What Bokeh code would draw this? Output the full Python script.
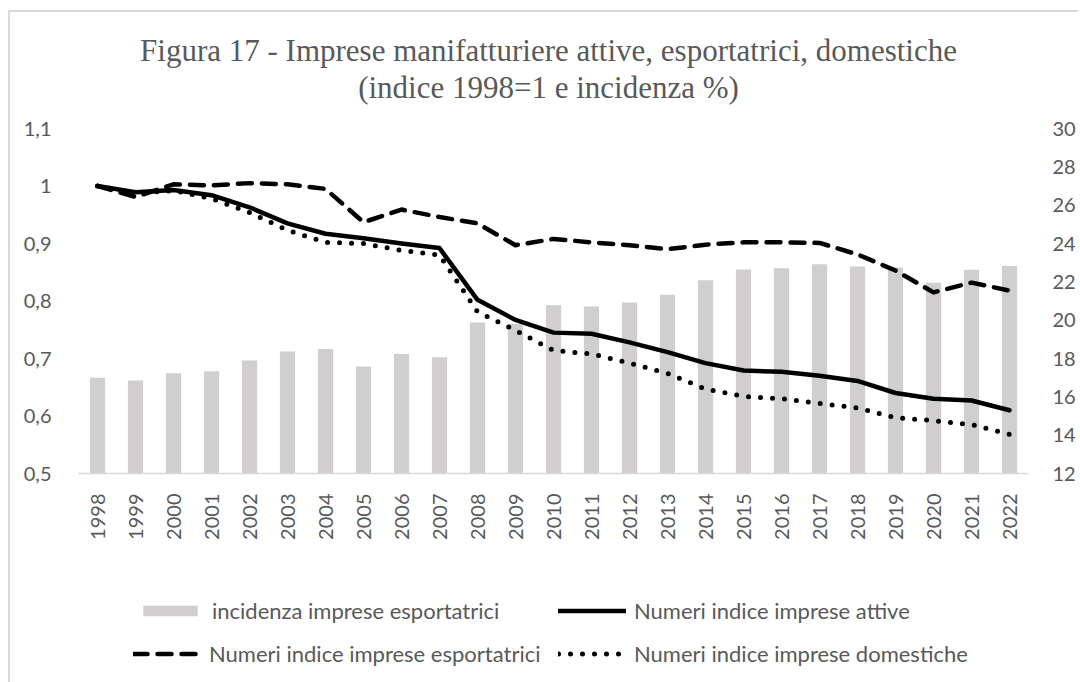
from bokeh.plotting import figure
from bokeh.layouts import column
from bokeh.models import (Range1d, FactorRange, LinearAxis, FixedTicker, CustomJSTickFormatter,
                          Legend, LegendItem, Label)
from bokeh.embed import file_html
from bokeh.resources import INLINE
import math

years = [str(y) for y in range(1998, 2023)]
incidenza = [17.0, 16.85, 17.23, 17.34, 17.9, 18.36, 18.5, 17.58, 18.24, 18.07, 19.88, 19.8,
             20.78, 20.71, 20.92, 21.32, 22.08, 22.64, 22.71, 22.92, 22.8, 22.75, 21.95, 22.63, 22.83]
attive = [1.0, 0.989, 0.993, 0.984, 0.963, 0.935, 0.917, 0.909, 0.900, 0.892, 0.802, 0.767,
          0.745, 0.743, 0.728, 0.711, 0.692, 0.679, 0.677, 0.670, 0.661, 0.640, 0.630, 0.627, 0.610]
esportatrici = [1.0, 0.981, 1.003, 1.001, 1.005, 1.003, 0.995, 0.937, 0.959, 0.946, 0.935, 0.897,
                0.908, 0.902, 0.897, 0.890, 0.898, 0.902, 0.902, 0.901, 0.881, 0.853, 0.815, 0.832, 0.818]
domestiche = [1.0, 0.987, 0.992, 0.978, 0.954, 0.923, 0.902, 0.900, 0.888, 0.880, 0.781, 0.749,
              0.714, 0.708, 0.692, 0.674, 0.647, 0.634, 0.630, 0.622, 0.614, 0.597, 0.592, 0.585, 0.568]
left_ticks = [0.5, 0.6, 0.7, 0.8, 0.9, 1.0, 1.1]
right_ticks = [12, 14, 16, 18, 20, 22, 24, 26, 28, 30]

title_1 = "Figura 17 - Imprese manifatturiere attive, esportatrici, domestiche"
title_2 = "(indice 1998=1 e incidenza %)"
lab_inc = "incidenza imprese esportatrici"
lab_att = "Numeri indice imprese attive"
lab_esp = "Numeri indice imprese esportatrici"
lab_dom = "Numeri indice imprese domestiche"

TXT = "#595959"
SANS = "Lato"
FS = "20px"
W = 1078
BAR = "#D0CECE"
NAN = float("nan")


def blank(fig):
    fig.border_fill_color = None
    fig.background_fill_color = None
    fig.outline_line_color = None
    fig.grid.grid_line_color = None


# ---------- header (title) ----------
hdr = figure(width=W, height=108, x_range=Range1d(0, 1), y_range=Range1d(0, 1),
             x_axis_type=None, y_axis_type=None, min_border=0,
             output_backend="svg", toolbar_location=None)
blank(hdr)
for txt, yy in ((title_1, 58), (title_2, 21)):
    hdr.add_layout(Label(x=470, y=yy, x_units="screen", y_units="screen", text=txt,
                         text_align="center", text_baseline="middle",
                         text_font="Liberation Serif", text_font_size="31px", text_color=TXT))

# ---------- chart ----------
p = figure(x_range=FactorRange(*years, range_padding=0), y_range=Range1d(0.5, 1.1),
           frame_width=950, frame_height=345,
           min_border_left=78, min_border_right=50, min_border_top=20, min_border_bottom=70,
           output_backend="svg", toolbar_location=None)
blank(p)
p.extra_y_ranges = {"right": Range1d(12, 30)}

p.vbar(x=years, top=incidenza, bottom=12, width=0.4, y_range_name="right",
       fill_color=BAR, line_color=None)
p.line(years, attive, line_color="black", line_width=4.5, line_join="round", line_cap="round")
p.line(years, esportatrici, line_color="black", line_width=4.5, line_dash="14 10",
       line_join="round", line_cap="round")
p.line(years, domestiche, line_color="black", line_width=5, line_dash="0 12",
       line_join="round", line_cap="round")

fmt = CustomJSTickFormatter(code="return String(parseFloat(tick.toFixed(2))).replace('.', ',');")

xa = p.xaxis[0]
xa.axis_line_color = "#d9d9d9"
xa.axis_line_width = 1.5
xa.major_tick_line_color = None
xa.minor_tick_line_color = None
xa.major_label_orientation = math.pi / 2
xa.major_label_standoff = 14
xa.major_label_text_font = SANS
xa.major_label_text_font_size = FS
xa.major_label_text_color = TXT

ya = p.yaxis[0]
ya.ticker = FixedTicker(ticks=left_ticks)
ya.formatter = fmt
ya.axis_line_color = None
ya.major_tick_line_color = None
ya.minor_tick_line_color = None
ya.major_label_standoff = 21
ya.major_label_text_font = SANS
ya.major_label_text_font_size = FS
ya.major_label_text_color = TXT

ra = LinearAxis(y_range_name="right", ticker=FixedTicker(ticks=right_ticks))
ra.axis_line_color = None
ra.major_tick_line_color = None
ra.minor_tick_line_color = None
ra.major_label_standoff = 18
ra.major_label_text_font = SANS
ra.major_label_text_font_size = FS
ra.major_label_text_color = TXT
p.add_layout(ra, "right")

# ---------- legend ----------
lf = figure(width=W, height=139, x_range=Range1d(0, 1), y_range=Range1d(0, 1),
            x_axis_type=None, y_axis_type=None, min_border=0,
            output_backend="svg", toolbar_location=None)
blank(lf)
g_inc = lf.vbar(x=[NAN], top=[NAN], width=0.4, fill_color=BAR, line_color=None)
g_att = lf.line(x=[NAN], y=[NAN], line_color="black", line_width=4.5, line_cap="round")
g_esp = lf.line(x=[NAN], y=[NAN], line_color="black", line_width=4.5, line_dash="14 10",
                line_cap="round")
g_dom = lf.line(x=[NAN], y=[NAN], line_color="black", line_width=5, line_dash="0 12",
                line_cap="round")


def row_legend(items, x, y, lw):
    lg = Legend(items=[LegendItem(label=t, renderers=[r]) for t, r in items],
                orientation="horizontal", location=(x, y),
                glyph_width=68, glyph_height=13, label_height=13, label_width=lw,
                label_standoff=8, padding=0, margin=0, spacing=0,
                border_line_color=None, background_fill_alpha=0,
                label_text_font=SANS, label_text_font_size="22px", label_text_color=TXT)
    lf.add_layout(lg, "center")


row_legend([(lab_inc, g_inc), (lab_att, g_att)], 58, 58, 346)
row_legend([(lab_esp, g_esp), (lab_dom, g_dom)], 55, 15, 349)

layout = column(hdr, p, lf, spacing=0)
layout.styles = {"box-shadow": "inset 8px 10px 0 0 #ffffff, inset 10px 12px 0 0 #d9d9d9"}

open("out.html", "w").write(file_html(layout, INLINE))
